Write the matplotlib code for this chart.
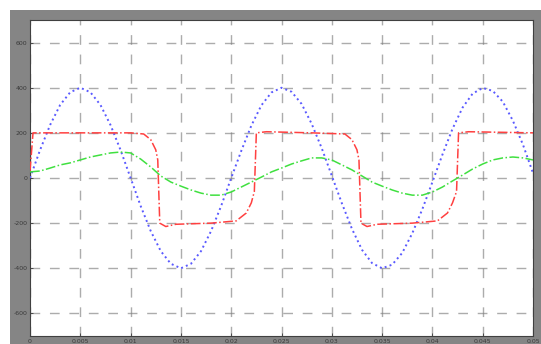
import numpy as np
import matplotlib
matplotlib.use("Agg")
import matplotlib.pyplot as plt

# time axis (s)
t = [round(0.001 * k, 3) for k in range(51)]

# blue sinusoid
blue = [0, 124, 235, 324, 380, 400, 380, 324, 235, 124,
        0, -124, -235, -324, -380, -400, -380, -324, -235, -124,
        0, 120, 232, 322, 379, 400, 382, 328, 240, 132,
        10, -112, -225, -318, -377, -400, -384, -332, -245, -138,
        -18, 104, 218, 312, 374, 399, 386, 338, 254, 148, 22]

# green curve
green = [27, 31, 44, 58, 67, 80, 93, 102, 111, 115,
         111, 84, 49, 9, -18, -36, -53, -67, -76, -76,
         -62, -40, -18, 4, 27, 44, 62, 76, 89, 89,
         80, 58, 36, 9, -18, -36, -53, -67, -76, -76,
         -62, -40, -13, 13, 40, 62, 80, 89, 93, 89, 80]

# red square-like wave (time, value)
red_t = [0.0, 0.0003, 0.001, 0.005, 0.010, 0.0113, 0.0120, 0.0125, 0.0127, 0.0129,
         0.0135, 0.0145, 0.018, 0.0205, 0.0215, 0.0220, 0.0223, 0.0225, 0.0235,
         0.028, 0.0313, 0.0320, 0.0325, 0.0327, 0.0329, 0.0335, 0.0345, 0.038,
         0.0405, 0.0415, 0.0420, 0.0424, 0.0426, 0.0436, 0.050]
red_v = [30, 200, 200, 200, 200, 195, 170, 125, 80, -200,
         -215, -205, -200, -190, -155, -110, -60, 200, 205,
         200, 195, 170, 125, 80, -200, -215, -205, -200,
         -190, -155, -110, -60, 200, 205, 200]

xticks = [0, 0.005, 0.01, 0.015, 0.02, 0.025, 0.03, 0.035, 0.04, 0.045, 0.05]
xticklabels = ["0", "0.005", "0.01", "0.015", "0.02", "0.025", "0.03", "0.035", "0.04", "0.045", "0.05"]
yticks = [-600, -400, -200, 0, 200, 400, 600]
yticklabels = ["-600", "-400", "-200", "0", "200", "400", "600"]

W, H = 541, 344
fig = plt.figure(figsize=(W / 100, H / 100), dpi=100, facecolor="white")
bg = fig.add_axes([10 / W, 0, 531 / W, 334 / H], zorder=-10)
bg.set_facecolor("#858585")
bg.set_xticks([])
bg.set_yticks([])
for s in bg.spines.values():
    s.set_visible(False)

ax = fig.add_axes([30 / W, 8 / H, 503 / W, 316 / H], zorder=1)
ax.set_facecolor("white")

ax.plot(t, blue, color="#5a5aff", linestyle=":", linewidth=1.4, zorder=3)
ax.plot(red_t, red_v, color="#ff4040", linestyle="-.", linewidth=1.1, zorder=3)
ax.plot(t, green, color="#40e040", linestyle="-.", linewidth=1.1, zorder=3)

ax.set_xlim(0, 0.05)
ax.set_ylim(-700, 700)
ax.set_xticks(xticks)
ax.set_xticklabels(xticklabels)
ax.set_yticks(yticks)
ax.set_yticklabels(yticklabels)
ax.tick_params(axis="both", labelsize=4.5, colors="#3a3a3a", length=2, width=0.6, direction="in", pad=2)
ax.grid(True, color="#808080", linestyle=(0, (7, 7)), linewidth=1.0, alpha=0.65)
for s in ax.spines.values():
    s.set_color("#404040")
    s.set_linewidth(0.8)

fig.savefig("out.png", dpi=100, facecolor="white")
